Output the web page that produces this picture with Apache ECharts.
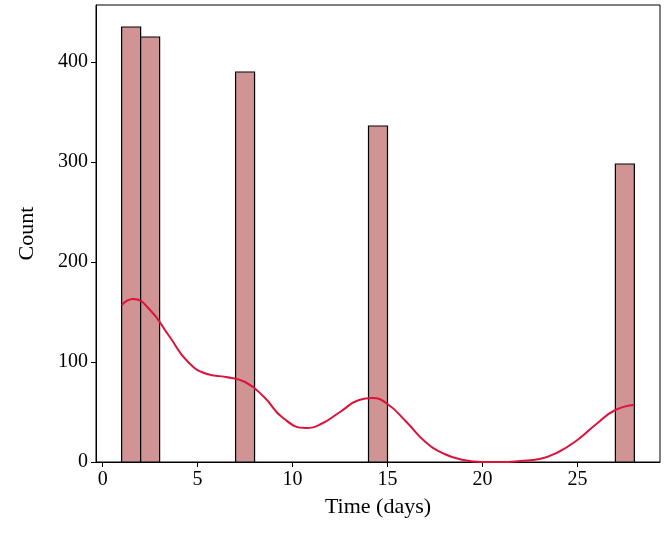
<!DOCTYPE html>
<html><head><meta charset="utf-8">
<script src="https://cdn.jsdelivr.net/npm/echarts@6/dist/echarts.min.js"></script>
<style>html,body{margin:0;padding:0;background:#fff}#main{width:669px;height:536px}</style>
</head><body><div id="main"></div>
<script>
// histogram bins: [start, end, count]
var binStarts = [1, 2, 7, 14, 27];
var binEnds = [2, 3, 8, 15, 28];
var binCounts = [435, 425, 390, 336, 298];
// density curve (scaled to counts)
var kdeX = [1, 1.6, 2.5, 3.5, 4.5, 5.5, 6.5, 7.5, 8.5, 9.5, 10.7, 11.5, 12.5, 13.5, 14.2, 15, 16, 17, 18, 19, 20, 21, 22, 23, 24, 25, 26, 27, 28];
var kdeY = [157, 163, 152, 126, 100, 88, 85, 80, 65, 44, 34, 38, 50, 62, 64, 58, 40, 20, 8, 2, 0, 0, 1, 3, 10, 22, 38, 52, 57];
var xTicks = [0, 5, 10, 15, 20, 25];
var yTicks = [0, 100, 200, 300, 400];

var chart = echarts.init(document.getElementById('main'));
var font = 'Liberation Serif';
var line = {show: true, onZero: false, lineStyle: {color: '#000', width: 1}};
var label = {color: '#000', fontFamily: font, fontSize: 20};
var nameStyle = {color: '#000', fontFamily: font, fontSize: 22};
chart.setOption({
  animation: false,
  grid: {left: 96, right: 9, top: 5, bottom: 74, show: true, borderColor: '#000', borderWidth: 1},
  xAxis: {type: 'value', min: -0.35, max: 29.35, name: 'Time (days)', nameLocation: 'middle', nameGap: 34,
    axisLine: line, splitLine: {show: false}, nameTextStyle: nameStyle,
    axisLabel: Object.assign({customValues: xTicks}, label),
    axisTick: {length: 5, lineStyle: {color: '#000'}, customValues: xTicks}},
  yAxis: {type: 'value', min: 0, max: 457, name: 'Count', nameLocation: 'middle', nameGap: 58,
    axisLine: line, splitLine: {show: false}, nameTextStyle: nameStyle,
    axisLabel: Object.assign({customValues: yTicks}, label),
    axisTick: {length: 5, lineStyle: {color: '#000'}, customValues: yTicks}},
  series: [{
    type: 'custom',
    data: binStarts.map(function (s, i) { return [s, binEnds[i], binCounts[i]]; }),
    renderItem: function (params, api) {
      var p0 = api.coord([api.value(0), 0]);
      var p1 = api.coord([api.value(1), api.value(2)]);
      return {type: 'rect', shape: {x: p0[0], y: p1[1], width: p1[0] - p0[0], height: p0[1] - p1[1]},
        style: {fill: '#d09494', stroke: '#000', lineWidth: 1.2}};
    }
  }, {
    type: 'line', smooth: true, symbol: 'none',
    data: kdeX.map(function (x, i) { return [x, kdeY[i]]; }),
    lineStyle: {color: '#dc143c', width: 2}
  }]
});
</script></body></html>
